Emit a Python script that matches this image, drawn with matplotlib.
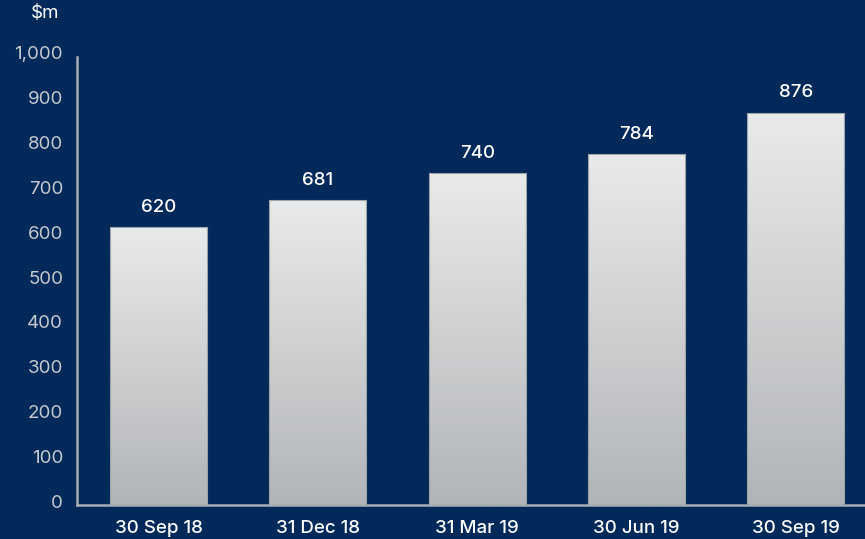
import matplotlib
matplotlib.use("Agg")
import matplotlib.pyplot as plt
import matplotlib.transforms as mtransforms
from matplotlib.colors import LinearSegmentedColormap
import numpy as np

categories = ["30 Sep 18", "31 Dec 18", "31 Mar 19", "30 Jun 19", "30 Sep 19"]
values = [620, 681, 740, 784, 876]
yticks = [0, 100, 200, 300, 400, 500, 600, 700, 800, 900, 1000]
ytick_labels = ["0", "100", "200", "300", "400", "500", "600", "700", "800", "900", "1,000"]
unit_label = "$m"

BG = "#01295a"
FONT = "Inter"

fig = plt.figure(figsize=(8.65, 5.39), dpi=100, facecolor=BG)
ax = fig.add_axes([77 / 865, 1 - 505 / 539, 1 - 77 / 865, (505 - 57) / 539])
ax.set_facecolor(BG)

x = np.arange(len(categories))
width = 0.61
bars = ax.bar(x, values, width=width, color="none", edgecolor="#9ea3a8", linewidth=0.8, zorder=3)

grad = np.linspace(0, 1, 256).reshape(-1, 1)
cmap = LinearSegmentedColormap.from_list("g", ["#b2b5b8", "#e9eaeb"])
for b in bars:
    x0, y0 = b.get_x(), b.get_y()
    w, h = b.get_width(), b.get_height()
    im = ax.imshow(grad, extent=[x0, x0 + w, y0, y0 + h], origin="lower",
                   aspect="auto", cmap=cmap, zorder=2)
    im.set_clip_path(b)

for xi, v in zip(x, values):
    ax.annotate(str(v), (xi, v), xytext=(0, 8), textcoords="offset points",
                ha="center", va="bottom", color="white", fontsize=13.5,
                family=FONT, fontweight="medium")

ax.set_xlim(-0.512, 4.435)
ax.set_ylim(0, 1000)
ax.set_yticks(yticks)
ax.set_yticklabels(ytick_labels)
ax.set_xticks(x)
ax.set_xticklabels(categories)

ax.tick_params(axis="y", length=0, pad=10, colors="#c5c9ce", labelsize=13.5)
ax.tick_params(axis="x", length=0, pad=11, colors="white", labelsize=13.5)
for lab in ax.get_yticklabels():
    lab.set_family(FONT)
    lab.set_transform(lab.get_transform() + mtransforms.ScaledTranslation(0, 4 / 100, fig.dpi_scale_trans))
for lab in ax.get_xticklabels():
    lab.set_family(FONT)
    lab.set_fontweight("medium")

for s in ["top", "right"]:
    ax.spines[s].set_visible(False)
for s in ["left", "bottom"]:
    ax.spines[s].set_color("#a9aeb4")
    ax.spines[s].set_linewidth(1.8)

fig.text(45 / 865, 1 - 14 / 539, unit_label, ha="center", va="center",
         color="white", fontsize=13.5, family=FONT)

fig.savefig("out.png", dpi=100, facecolor=BG)
